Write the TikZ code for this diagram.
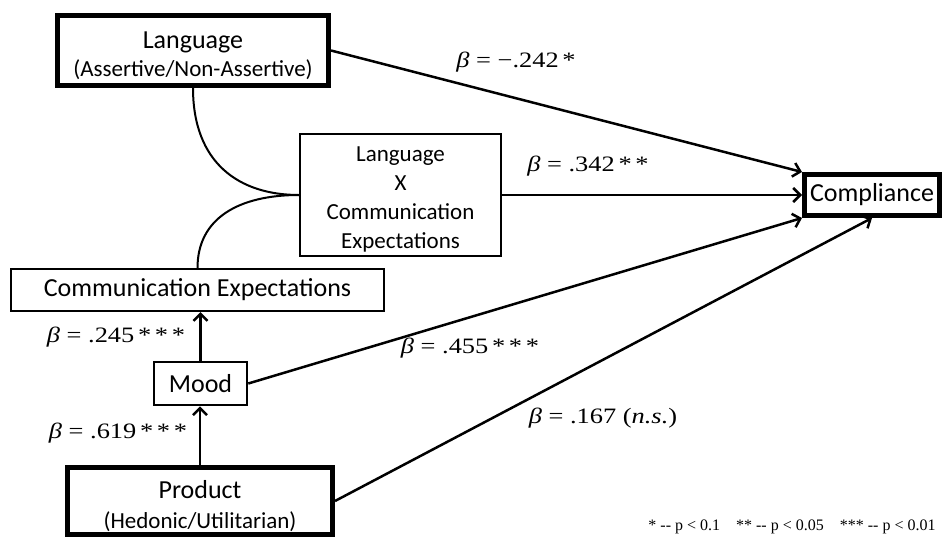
\documentclass[tikz,border=0pt]{standalone}
\usepackage{fontspec}
\setmainfont{Carlito}
\newfontfamily\tnr[FakeStretch=1.2]{Liberation Serif}
\newfontfamily\tnrnote{Liberation Serif}
\usetikzlibrary{arrows.meta,positioning}

\begin{document}
\begin{tikzpicture}[x=1pt,y=-1pt,
 var/.style={draw,line width=2pt,align=center,inner sep=0pt,font=\fontsize{26}{29}\selectfont},
 key/.style={var,line width=5pt},
 small/.style={font=\fontsize{23}{29}\selectfont},
 link/.style={line width=2.5pt,-{Straight Barb[length=7pt,width=14pt]}},
 merge/.style={line width=2pt},
 coef/.style={font=\tnr\fontsize{22}{24}\selectfont}]
\useasboundingbox (0,0) rectangle (945,539);
% variables
\node [key,minimum width=271,minimum height=70] (lang) at (193,50.5)
 {\rule{0pt}{28pt}Language\\[-1pt]{\fontsize{23}{26}\selectfont(Assertive/Non-Assertive)}};
\node [var,small,minimum width=201,minimum height=122] (inter) at (400.5,195)
 {\rule{0pt}{23pt}Language\\X\\Communication\\Expectations};
\node [var,minimum width=373,minimum height=42] (comm) at (197.5,290) {Communication Expectations};
\node [var,line width=2.5pt,minimum width=93,minimum height=43] (mood) at (200.5,383.5) {Mood};
\node [key,minimum width=265,minimum height=67] (prod) at (200,501)
 {\rule{0pt}{28pt}Product\\[1pt]{\fontsize{23}{26}\selectfont(Hedonic/Utilitarian)}};
\node [key,minimum width=135,minimum height=41] (comp) at (872,195) {Compliance};
% interaction
\draw [merge] (lang.south) .. controls +(0,75) and +(-60,0) .. (inter.west);
\draw [merge] (comm.north) .. controls +(0,-50) and +(-60,0) .. (inter.west);
% paths
\draw [link] (lang.east) -- (comp.north west);
\draw [link] (inter.east) -- (comp.west);
\draw [link] (mood.east) -- (comp.south west);
\draw [link] (prod.east) -- (comp.south);
\draw [link] (mood.north) -- (mood.north |- comm.south);
\draw [link] (prod.north) -- (prod.north |- mood.south);
% coefficients
\node [coef] (b1) at (516,62) {{\itshape β} = −.242\,*};
\node [coef] (b2) at (588,166) {{\itshape β} = .342\,*\,*};
\node [coef] (b3) at (116,337) {{\itshape β} = .245\,*\,*\,*};
\node [coef] (b4) at (118,433) {{\itshape β} = .619\,*\,*\,*};
\node [coef] (b5) at (470,348) {{\itshape β} = .455\,*\,*\,*};
\node [coef] (b6) at (603,418) {{\itshape β} = .167 ({\itshape n.s.})};
\node [font=\tnrnote\fontsize{16}{18}\selectfont] (note) at (792,527)
 {* -- p < 0.1\quad ** -- p < 0.05\quad *** -- p < 0.01};
\end{tikzpicture}
\end{document}
